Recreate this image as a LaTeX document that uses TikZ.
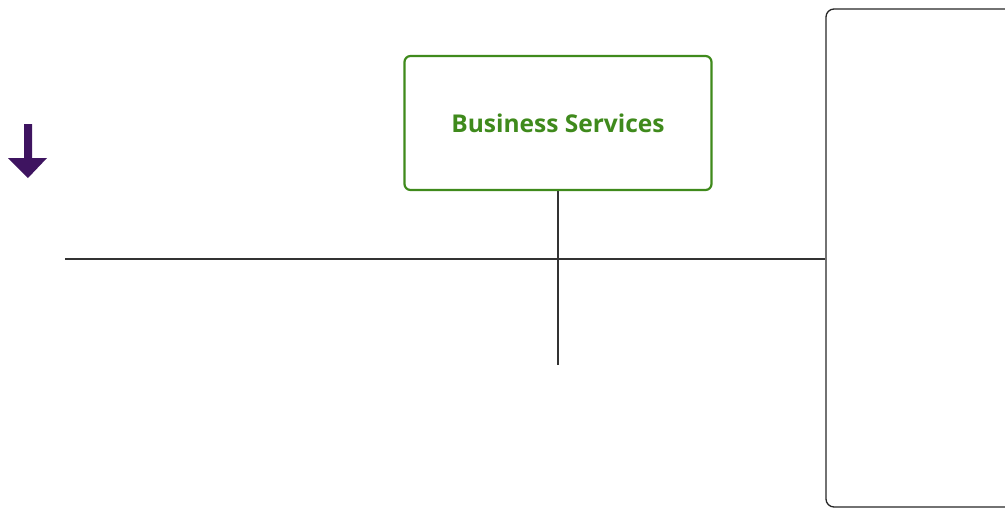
\documentclass[tikz,border=0pt]{standalone}
\usepackage{fontspec}
\setmainfont{Open Sans}
\definecolor{bsgreen}{HTML}{3F8A1C}
\definecolor{arrowpurple}{HTML}{3E1460}
\definecolor{linegray}{HTML}{333333}
\begin{document}
\begin{tikzpicture}[x=1pt,y=-1pt,
  bsbox/.style={draw=bsgreen, line width=2.2pt, rounded corners=6pt, fill=white,
    minimum width=307pt, minimum height=134pt, inner sep=0pt,
    font=\fontsize{24.5}{28}\selectfont\bfseries, text=bsgreen},
  panelbox/.style={draw=black!85, line width=1.3pt, rounded corners=8pt},
  conn/.style={draw=linegray, line width=1.1pt}]
\useasboundingbox (0,0) rectangle (1005,509);
\clip (0,0) rectangle (1005,509);
% right panel
\node[panelbox, minimum width=214pt, minimum height=498pt, inner sep=0pt] (panel) at (933,258) {};
\coordinate (panelhit) at (panel.west |- 0,259);
\coordinate (hstart) at (65,259);
\coordinate (vend) at (558,365);
\coordinate (ovA) at (363,259);
\coordinate (ovB) at (407,259);
% connectors
\draw[conn] (hstart) -- (panelhit);
\draw[conn] (ovA) -- (ovB);
\node[bsbox] (bs) at (558,123) {Business Services};
\draw[conn] (bs.south) -- (vend);
% arrow
\fill[arrowpurple] (24,124) -- (32,124) -- (32,158) -- (47,158) -- (28,178) -- (8,158) -- (24,158) -- cycle;
\end{tikzpicture}
\end{document}
